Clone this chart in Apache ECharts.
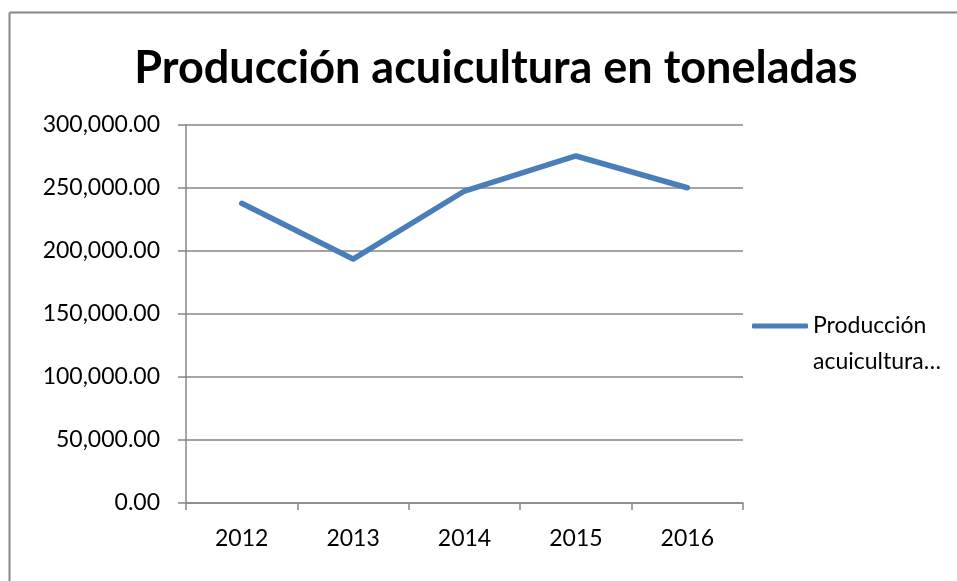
<!DOCTYPE html>
<html>
<head>
<meta charset="utf-8">
<script src="https://cdn.jsdelivr.net/npm/echarts@6/dist/echarts.min.js"></script>
<style>
  html, body { margin: 0; padding: 0; background: #fff; }
  #main { width: 957px; height: 581px; }
</style>
</head>
<body>
<div id="main"></div>
<script>
// datos
var years = ['2012', '2013', '2014', '2015', '2016'];
var produccion = [237900, 193600, 247600, 275400, 250200];
var serieNombre = 'Producción acuicultura en toneladas';

var chartDom = document.getElementById('main');
var myChart = echarts.init(chartDom);
var font = 'Lato, "Open Sans", sans-serif';

var option = {
    animation: false,
    title: {
        text: 'Producción acuicultura en toneladas',
        left: 491,
        top: 41,
        textAlign: 'center',
        textStyle: {
            fontFamily: font,
            fontSize: 45,
            fontWeight: 'bold',
            color: '#000'
        }
    },
    graphic: [
        { type: 'line', shape: { x1: 9.5, y1: 12.5, x2: 957, y2: 12.5 }, style: { stroke: '#868686', lineWidth: 2 } },
        { type: 'line', shape: { x1: 9.5, y1: 12.5, x2: 9.5, y2: 581 }, style: { stroke: '#868686', lineWidth: 2 } }
    ],
    grid: {
        left: 186,
        right: 214,
        top: 125,
        bottom: 78
    },
    legend: {
        left: 752,
        top: 272,
        padding: 0,
        icon: 'roundRect',
        itemWidth: 56,
        itemHeight: 5,
        formatter: function () { return ' \nProducción\nacuicultura…'; },
        textStyle: {
            fontFamily: font,
            fontSize: 23,
            color: '#000',
            lineHeight: 36
        }
    },
    xAxis: {
        type: 'category',
        data: years,
        boundaryGap: true,
        axisLine: { lineStyle: { color: '#868686', width: 1.5 } },
        axisTick: { show: true, length: 7, lineStyle: { color: '#868686', width: 1.5 } },
        axisLabel: { fontFamily: font, fontSize: 23, color: '#000', margin: 24 },
        splitLine: { show: false }
    },
    yAxis: {
        type: 'value',
        min: 0,
        max: 300000,
        interval: 50000,
        axisLine: { show: true, lineStyle: { color: '#868686', width: 1.5 } },
        axisTick: { show: true, length: 8, lineStyle: { color: '#868686', width: 1.5 } },
        axisLabel: {
            fontFamily: font,
            fontSize: 23,
            color: '#000',
            margin: 26,
            formatter: function (v) {
                return v.toLocaleString('en-US', { minimumFractionDigits: 2, maximumFractionDigits: 2 });
            }
        },
        splitLine: { show: true, lineStyle: { color: '#868686', width: 1.5 } }
    },
    series: [{
        name: serieNombre,
        type: 'line',
        data: produccion,
        symbol: 'none',
        lineStyle: { color: '#4a7ebb', width: 5.5, cap: 'round', join: 'round' },
        itemStyle: { color: '#4a7ebb' }
    }]
};
myChart.setOption(option);
</script>
</body>
</html>
